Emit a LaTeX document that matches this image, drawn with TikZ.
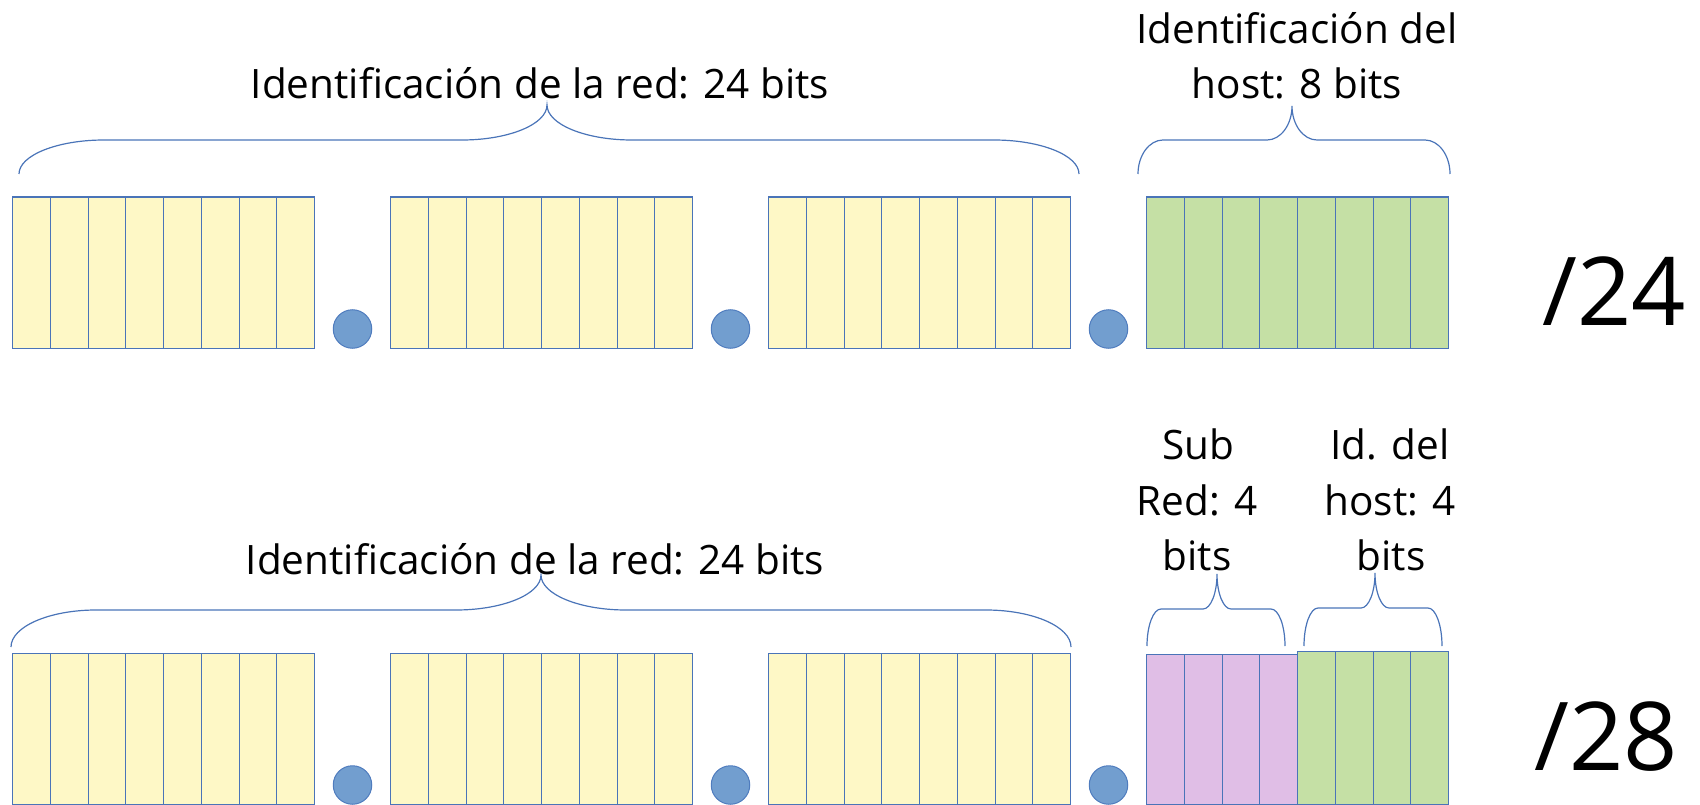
\documentclass[tikz,border=0pt]{standalone}
\usepackage{fontspec}
\setmainfont{Open Sans}
\definecolor{yel}{HTML}{FEF8C6}
\definecolor{grn}{HTML}{C5E0A5}
\definecolor{pnk}{HTML}{E0BEE6}
\definecolor{lne}{HTML}{4A74B8}
\definecolor{dotf}{HTML}{729ECF}
\definecolor{dotd}{HTML}{4F7CBE}
\tikzset{
  cell/.style={draw=lne, line width=1.2pt, minimum width=37.75pt, inner sep=0pt, anchor=north west},
  dotn/.style={circle, fill=dotf, draw=dotd, line width=1pt, minimum size=38.5pt, inner sep=0pt},
  brc/.style={draw=lne, line width=1.2pt},
  lbl/.style={inner sep=0pt, anchor=base, font=\fontsize{40.5}{55}\selectfont},
  big/.style={inner sep=0pt, anchor=base, font=\fontsize{95}{110}\selectfont}
}
\newcommand{\obrace}[7]{%
\draw[brc] (#1,#4) .. controls (#1,{#4-0.55*(#4-#5)}) and ({#1+0.45*#7},#5) .. ({#1+#7},#5)
 -- ({#3-#7},#5) .. controls ({#3-0.45*#7},#5) and (#3,{#5-0.45*(#5-#6)}) .. (#3,#6)
 .. controls (#3,{#5-0.45*(#5-#6)}) and ({#3+0.45*#7},#5) .. ({#3+#7},#5)
 -- ({#2-#7},#5) .. controls ({#2-0.45*#7},#5) and (#2,{#4-0.55*(#4-#5)}) .. (#2,#4);}
\begin{document}
\begin{tikzpicture}[x=1pt,y=-1pt]
\useasboundingbox (0,0) rectangle (1700,805);
% top row
\foreach \b/\x in {1/12,2/390,3/768}{
  \foreach \c in {1,...,8}{
    \node[cell, fill=yel, minimum height=151.5pt] (t\b c\c) at ({\x+(\c-1)*37.75},196.5) {};
  }
}
\foreach \c in {1,...,8}{
  \node[cell, fill=grn, minimum height=151.5pt] (t4c\c) at ({1146+(\c-1)*37.75},196.5) {};
}
\node[dotn] (td1) at (352.5,329) {};
\node[dotn] (td2) at (730.5,329) {};
\node[dotn] (td3) at (1108.5,329) {};
% bottom row
\foreach \b/\x in {1/12,2/390,3/768}{
  \foreach \c in {1,...,8}{
    \node[cell, fill=yel, minimum height=151.5pt] (b\b c\c) at ({\x+(\c-1)*37.75},652.5) {};
  }
}
\foreach \c in {1,...,4}{
  \node[cell, fill=pnk, minimum height=150pt] (b4c\c) at ({1146+(\c-1)*37.75},654) {};
}
\foreach \c in {5,...,8}{
  \node[cell, fill=grn, minimum height=153pt] (b4c\c) at ({1146+(\c-1)*37.75},651) {};
}
\node[dotn] (bd1) at (352.5,785) {};
\node[dotn] (bd2) at (730.5,785) {};
\node[dotn] (bd3) at (1108.5,785) {};
% braces
\obrace{19}{1079}{547}{174}{140}{105}{85}
\obrace{1138}{1450}{1292}{174}{140}{106}{25}
\obrace{11}{1071}{541}{647}{610}{575}{85}
\obrace{1147}{1285}{1217}{646}{609}{574}{14}
\obrace{1304}{1442}{1375}{646}{608}{573}{14}
% labels
\node[lbl] (l1) at (540,99) {Identificación de la red: 24 bits};
\node[lbl] (l2a) at (1297,44) {Identificación del};
\node[lbl] (l2b) at (1297,99) {host: 8 bits};
\node[lbl] (l3) at (535,574) {Identificación de la red: 24 bits};
\node[lbl] (l4a) at (1198,459) {Sub};
\node[lbl] (l4b) at (1197,515) {Red: 4};
\node[lbl] (l4c) at (1197,570) {bits};
\node[lbl] (l5a) at (1390,459) {Id. del};
\node[lbl] (l5b) at (1390,515) {host: 4};
\node[lbl] (l5c) at (1391,570) {bits};
\node[big] (p24) at (1614,325) {/24};
\node[big] (p28) at (1606,770) {/28};
\end{tikzpicture}
\end{document}
